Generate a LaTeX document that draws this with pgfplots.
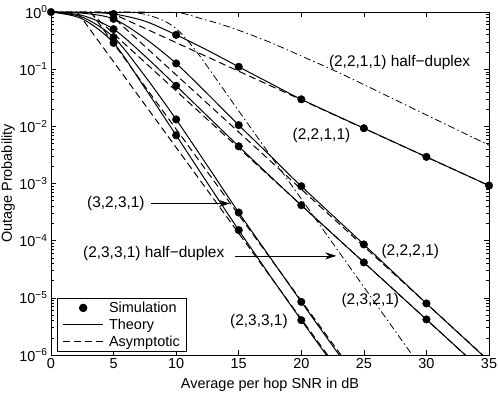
\documentclass[border=0pt]{standalone}
\usepackage{fontspec}
\setmainfont{Liberation Sans}
\usepackage{pgfplots}
\pgfplotsset{compat=1.18}
\usetikzlibrary{arrows.meta}

\begin{document}
\begin{tikzpicture}
\path[use as bounding box] (-51bp,-42bp) rectangle (447bp,355bp);
\begin{axis}[
  width=438bp, height=343bp, scale only axis,
  ymode=log, xmin=0, xmax=35, ymin=1e-6, ymax=1,
  xtick={0,5,...,35}, xticklabels={0,5,10,15,20,25,30,35},
  ytick={1e-6,1e-5,1e-4,1e-3,1e-2,1e-1,1},
  yticklabels={10\textsuperscript{−6},10\textsuperscript{−5},10\textsuperscript{−4},10\textsuperscript{−3},10\textsuperscript{−2},10\textsuperscript{−1},10\textsuperscript{0}},
  minor ytick={2e-6,3e-6,4e-6,5e-6,6e-6,7e-6,8e-6,9e-6,
    2e-5,3e-5,4e-5,5e-5,6e-5,7e-5,8e-5,9e-5,
    2e-4,3e-4,4e-4,5e-4,6e-4,7e-4,8e-4,9e-4,
    2e-3,3e-3,4e-3,5e-3,6e-3,7e-3,8e-3,9e-3,
    2e-2,3e-2,4e-2,5e-2,6e-2,7e-2,8e-2,9e-2,
    0.2,0.3,0.4,0.5,0.6,0.7,0.8,0.9},
  tick align=inside, major tick length=5bp, minor tick length=3bp,
  every tick/.style={black, line width=0.5bp},
  axis line style={line width=0.8bp},
  font=\fontsize{14.5}{17}\selectfont,
  tick label style={font=\fontsize{14.5}{17}\selectfont},
  xlabel={Average per hop SNR in dB},
  ylabel={Outage Probability},
  xlabel style={at={(axis description cs:0.5,-0.0875)}, anchor=center},
  ylabel style={at={(axis description cs:-0.098,0.5)}, anchor=center},
  legend style={at={(0.0144,0.0096)}, anchor=south west, draw=black,
    line width=0.8bp, fill=white, inner xsep=5bp, inner ysep=2bp,
    nodes={inner sep=1.5bp}, row sep=2bp},
  legend cell align=left,
]
\addlegendimage{legend image code/.code={\fill (20bp,0bp) circle (3.8bp); \path (44bp,0bp);}}
\addlegendentry{Simulation}
\addlegendimage{legend image code/.code={\draw[line width=1bp] (0bp,0bp) -- (40bp,0bp); \path (44bp,0bp);}}
\addlegendentry{Theory}
\addlegendimage{legend image code/.code={\draw[line width=1bp,dash pattern=on 7bp off 4bp] (0bp,0bp) -- (40bp,0bp); \path (44bp,0bp);}}
\addlegendentry{Asymptotic}

% theory, full-duplex
\addplot[forget plot, line width=1bp, smooth] coordinates {(0,1) (2.5,0.989) (5,0.923) (7.5,0.692) (10,0.398) (12.5,0.214) (15,0.110) (17.5,0.0569) (20,0.0297) (25,0.00927) (30,0.00292) (35,0.00092)};
\addplot[forget plot, line width=1bp, smooth] coordinates {(0,1) (2.5,0.955) (5,0.759) (7.5,0.347) (10,0.126) (12.5,0.0372) (15,0.0105) (17.5,0.00309) (20,8.97e-4) (25,8.59e-5) (30,7.98e-6) (35,7.8e-7)};
\addplot[forget plot, line width=1bp, smooth] coordinates {(0,1) (2.5,0.871) (5,0.501) (7.5,0.170) (10,0.0513) (12.5,0.0151) (15,0.00447) (17.5,0.00135) (20,4.17e-4) (25,4.17e-5) (30,4.19e-6) (35,4.17e-7)};
\addplot[forget plot, line width=1bp, smooth] coordinates {(0,1) (2.5,0.813) (5,0.363) (7.5,0.0759) (10,0.0132) (12.5,0.00204) (15,3.11e-4) (17.5,5.13e-5) (20,8.51e-6) (22.5,1.45e-6) (25,2.51e-7)};
\addplot[forget plot, line width=1bp, smooth] coordinates {(0,1) (2.5,0.759) (5,0.288) (7.5,0.0468) (10,0.00698) (12.5,0.00102) (15,1.53e-4) (17.5,2.45e-5) (20,4.07e-6) (22.5,7.08e-7)};

% asymptotic
\addplot[forget plot, line width=1bp, dash pattern=on 7bp off 4bp] coordinates {(4.64,1) (35,9.2e-4)};
\addplot[forget plot, line width=1bp, dash pattern=on 7bp off 4bp] coordinates {(4.5,1) (34.5,1e-6)};
\addplot[forget plot, line width=1bp, dash pattern=on 7bp off 4bp] coordinates {(3.1,1) (33.1,1e-6)};
\addplot[forget plot, line width=1bp, dash pattern=on 7bp off 4bp] coordinates {(3.17,1) (23.17,1e-6)};
\addplot[forget plot, line width=1bp, dash pattern=on 7bp off 4bp] coordinates {(2.1,1) (22.1,1e-6)};

% half-duplex
\addplot[forget plot, line width=0.8bp, smooth, dash pattern=on 7bp off 3bp on 1.5bp off 3bp] coordinates {(0,1) (5,1) (7.5,0.995) (10,0.977) (11,0.891) (12,0.767) (13.5,0.617) (15,0.479) (17.5,0.295) (20,0.170) (22.5,0.0977) (25,0.0537) (30,0.0158) (35,0.00468)};
\addplot[forget plot, line width=0.8bp, smooth, dash pattern=on 7bp off 3bp on 1.5bp off 3bp] coordinates {(0,1) (5,1) (6,0.993) (7,0.955) (7.5,0.912) (8,0.851) (9,0.708) (10,0.513) (11,0.302) (12,0.158) (13,0.0776) (14,0.0380) (15,0.0186) (17.5,0.00316) (20,5.37e-4) (22.5,9.12e-5) (25,1.55e-5) (27.5,2.63e-6) (30,4.47e-7)};

% simulation
\addplot[forget plot, only marks, mark=*, mark size=3.8bp] coordinates {(0,1) (5,0.923) (10,0.398) (15,0.110) (20,0.0297) (25,0.00927) (30,0.00292) (35,0.00092)};
\addplot[forget plot, only marks, mark=*, mark size=3.8bp] coordinates {(5,0.759) (10,0.126) (15,0.0105) (20,8.97e-4) (25,8.59e-5) (30,7.98e-6)};
\addplot[forget plot, only marks, mark=*, mark size=3.8bp] coordinates {(5,0.501) (10,0.0513) (15,0.00447) (20,4.17e-4) (25,4.17e-5) (30,4.19e-6)};
\addplot[forget plot, only marks, mark=*, mark size=3.8bp] coordinates {(5,0.363) (10,0.0132) (15,3.11e-4) (20,8.51e-6)};
\addplot[forget plot, only marks, mark=*, mark size=3.8bp] coordinates {(5,0.288) (10,0.00698) (15,1.53e-4) (20,4.07e-6)};

% labels
\begin{scope}[every node/.style={anchor=west, inner sep=0, font=\fontsize{15.5}{18}\selectfont}]
\node at (axis cs:22.2,0.132) {(2,2,1,1) half−duplex};
\node at (axis cs:19.3,0.00698) {(2,2,1,1)};
\node at (axis cs:26.4,6.37e-5) {(2,2,2,1)};
\node at (axis cs:23.2,9.1e-6) {(2,3,2,1)};
\node at (axis cs:14.3,3.8e-6) {(2,3,3,1)};
\node at (axis cs:2.87,4.53e-4) {(3,2,3,1)};
\node at (axis cs:2.55,6.03e-5) {(2,3,3,1) half−duplex};
\end{scope}
\draw[-{Stealth[length=11bp,width=7bp]}, line width=0.7bp] (axis cs:8.03,4.47e-4) -- (axis cs:14.29,4.47e-4);
\draw[-{Stealth[length=11bp,width=7bp]}, line width=0.7bp] (axis cs:14.7,5.42e-5) -- (axis cs:22.8,5.42e-5);
\end{axis}
\end{tikzpicture}
\end{document}
